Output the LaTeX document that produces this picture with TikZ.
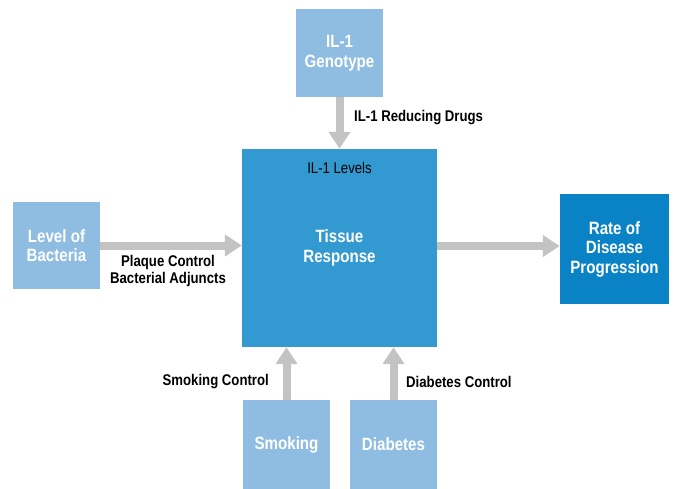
\documentclass[tikz,border=0pt]{standalone}
\usepackage{fontspec}
\setmainfont{Liberation Sans}[FakeStretch=0.85]
\usetikzlibrary{arrows.meta}
\definecolor{lightbox}{HTML}{8FBCE1}
\definecolor{midbox}{HTML}{3399D1}
\definecolor{darkbox}{HTML}{0A82C6}
\definecolor{arrowgray}{HTML}{C3C3C3}
\tikzset{
  box/.style={rectangle, inner sep=0pt, text=white, align=center,
    font=\fontsize{17.8}{19.5}\selectfont\bfseries},
  conn/.style={draw=arrowgray, line width=8pt,
    -{Triangle[width=21pt,length=17pt]}},
  lab/.style={inner sep=0pt, font=\fontsize{15.5}{16.5}\selectfont\bfseries, align=center}
}
\begin{document}
\begin{tikzpicture}[x=1pt,y=-1pt]
\useasboundingbox (0,0) rectangle (674,489);
\node[box, fill=lightbox, minimum width=87pt, minimum height=88pt] (gen) at (339.5,53) {IL-1\\Genotype};
\node[box, fill=midbox, minimum width=195pt, minimum height=198pt] (big) at (339.5,248) {Tissue\\Response};
\node[box, fill=lightbox, minimum width=87pt, minimum height=87pt] (bac) at (56.5,245.5) {Level of\\Bacteria};
\node[box, fill=darkbox, minimum width=109pt, minimum height=110pt] (rate) at (614.5,249) {Rate of\\Disease\\Progression};
\node[box, fill=lightbox, minimum width=87pt, minimum height=89pt] (smk) at (286.5,444.5) {Smoking};
\node[box, fill=lightbox, minimum width=87pt, minimum height=89pt] (dia) at (393.5,444.5) {Diabetes};
\node[inner sep=0pt, font=\fontsize{15.5}{16}\selectfont] (lev) at (339.5,168) {IL-1 Levels};
\draw[conn] (gen.south) -- (big.north);
\draw[conn] (bac.east) -- (big.west |- bac.east);
\draw[conn] ([yshift=3pt]rate.west -| big.east) -- ([yshift=3pt]rate.west);
\draw[conn] (smk.north) -- (big.south -| smk.north);
\draw[conn] (dia.north) -- (big.south -| dia.north);
\node[lab, anchor=west] (drugs) at (354,118) {IL-1 Reducing Drugs};
\node[lab] (plaque) at (168,271) {Plaque Control\\Bacterial Adjuncts};
\node[lab, anchor=east] (smkc) at (269,382) {Smoking Control};
\node[lab, anchor=west] (diac) at (406,382) {Diabetes Control};
\end{tikzpicture}
\end{document}
